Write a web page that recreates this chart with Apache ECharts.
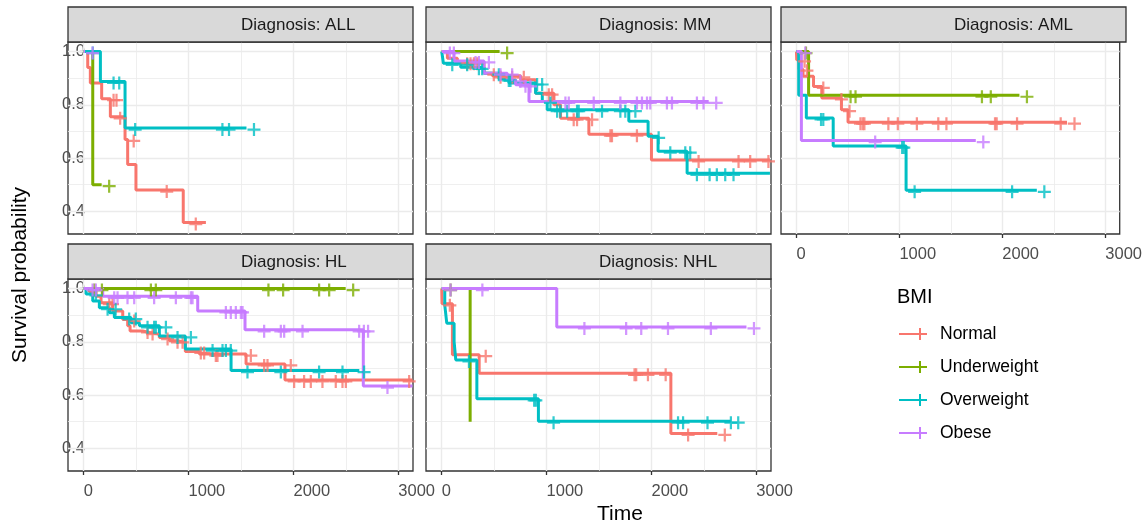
<!DOCTYPE html>
<html><head><meta charset="utf-8">
<script src="https://cdn.jsdelivr.net/npm/echarts@6/dist/echarts.min.js"></script>
<style>html,body{margin:0;padding:0;background:#fff}#c{width:1145px;height:527px}</style>
</head><body><div id="c"></div><script>
// ---------- data ----------
const groups = ['Normal', 'Underweight', 'Overweight', 'Obese'];
const panelNames = ['ALL', 'MM', 'AML', 'HL', 'NHL'];
const xTicks = [0, 1000, 2000, 3000];
const xMinor = [500, 1500, 2500];
const yTicks = [0.4, 0.6, 0.8, 1.0];
const yMinor = [0.5, 0.7, 0.9];

// ALL
const allNormalT = [0,38,63,171,254,394,419,498,949,1165];
const allNormalS = [1,0.94,0.882,0.823,0.755,0.67,0.576,0.48,0.358,0.358];
const allNormalC = [213,241,276,405,720,997];
const allUnderT = [0,86,171];
const allUnderS = [1,0.5,0.5];
const allUnderC = [171];
const allOverT = [0,159,394,1552];
const allOverS = [1,0.888,0.713,0.713];
const allOverC = [15,213,267,419,1251,1314,1552];
const allObeseT = [0,13];
const allObeseS = [1,1];
const allObeseC = [13];
// MM
const mmNormalT = [0,54,149,403,483,752,895,1070,1133,1403,2000,3130];
const mmNormalS = [1,0.975,0.96,0.919,0.909,0.894,0.844,0.80,0.75,0.69,0.593,0.593];
const mmNormalC = [171,203,235,267,425,489,600,711,949,981,1187,1219,1362,1537,1552,1790,2378,2759,2870,3044];
const mmUnderT = [0,552];
const mmUnderS = [1,1];
const mmUnderC = [552];
const mmOverT = [0,16,181,403,546,641,895,959,1006,1784,1968,2063,2340,3130];
const mmOverS = [1,0.956,0.941,0.919,0.897,0.882,0.844,0.813,0.782,0.738,0.682,0.626,0.543,0.543];
const mmOverC = [29,171,283,314,473,568,584,838,886,965,1029,1060,1124,1219,1235,1457,1632,1679,1775,1997,2108,2251,2298,2362,2483,2552,2632,2711];
const mmObeseT = [0,117,403,625,705,832,2546];
const mmObeseS = [1,0.965,0.919,0.894,0.875,0.813,0.813];
const mmObeseC = [6,44,251,283,378,489,600,679,727,775,1108,1140,1378,1632,1790,1838,1886,1917,2076,2124,2362,2425,2546];
// AML
const amlNormalT = [0,3,25,64,166,246,437,501,2628];
const amlNormalS = [1,0.969,0.934,0.907,0.869,0.826,0.782,0.735,0.735];
const amlNormalC = [6,29,188,364,443,549,571,587,820,912,1097,1305,1384,1856,1872,2070,2494,2628];
const amlUnderT = [0,118,2166];
const amlUnderS = [1,0.836,0.836];
const amlUnderC = [20,453,501,1729,1815,2166];
const amlOverT = [0,22,96,357,1065,2335];
const amlOverS = [1,0.836,0.751,0.645,0.479,0.479];
const amlOverC = [166,188,954,970,1075,2022,2335];
const amlObeseT = [0,48,1742];
const amlObeseS = [1,0.666,0.666];
const amlObeseC = [13,692,1742];
// HL
const hlNormalT = [0,54,118,165,276,372,419,442,562,626,721,817,896,969,1103,1548,1919,3135];
const hlNormalS = [1,0.988,0.971,0.947,0.916,0.884,0.86,0.841,0.835,0.829,0.816,0.804,0.798,0.764,0.754,0.717,0.657,0.657];
const hlNormalC = [172,203,410,537,585,728,823,871,1045,1077,1188,1204,1522,1649,1681,1903,1935,2030,2094,2205,2332,2396,2428,3032];
const hlUnderT = [0,2498];
const hlUnderS = [1,1];
const hlUnderC = [30,102,569,616,1690,1830,2173,2269,2498];
const hlOverT = [0,22,86,149,245,292,451,531,721,969,1405,2628];
const hlOverS = [1,0.98,0.953,0.928,0.909,0.891,0.872,0.86,0.822,0.773,0.692,0.692];
const hlOverC = [45,156,233,362,425,537,600,616,712,823,950,1157,1252,1284,1331,1490,1808,2173,2396,2602];
const hlObeseT = [0,181,1087,1538,2666,3135];
const hlObeseS = [1,0.971,0.916,0.845,0.634,0.634];
const hlObeseC = [13,44,219,251,346,410,600,807,950,966,1284,1331,1379,1427,1443,1649,1808,1840,2015,2555,2600,2640,2825];
// NHL
const nhlNormalT = [0,3,102,357,2185,2628];
const nhlNormalS = [1,0.943,0.752,0.682,0.456,0.456];
const nhlNormalC = [6,348,1767,1783,1895,2064,2278,2628];
const nhlUnderT = [0,271];
const nhlUnderS = [1,0.5];
const nhlUnderC = [13];
const nhlOverT = [0,29,48,118,134,335,922,2756];
const nhlOverS = [1,0.938,0.87,0.801,0.732,0.586,0.502,0.502];
const nhlOverC = [188,810,826,995,2182,2230,2463,2686,2756];
const nhlObeseT = [0,1097,2906];
const nhlObeseS = [1,0.856,0.856];
const nhlObeseC = [13,316,1289,1687,1831,2086,2495,2906];

// ---------- build ----------
const curves = [
  [[allNormalT,allNormalS,allNormalC],[allUnderT,allUnderS,allUnderC],[allOverT,allOverS,allOverC],[allObeseT,allObeseS,allObeseC]],
  [[mmNormalT,mmNormalS,mmNormalC],[mmUnderT,mmUnderS,mmUnderC],[mmOverT,mmOverS,mmOverC],[mmObeseT,mmObeseS,mmObeseC]],
  [[amlNormalT,amlNormalS,amlNormalC],[amlUnderT,amlUnderS,amlUnderC],[amlOverT,amlOverS,amlOverC],[amlObeseT,amlObeseS,amlObeseC]],
  [[hlNormalT,hlNormalS,hlNormalC],[hlUnderT,hlUnderS,hlUnderC],[hlOverT,hlOverS,hlOverC],[hlObeseT,hlObeseS,hlObeseC]],
  [[nhlNormalT,nhlNormalS,nhlNormalC],[nhlUnderT,nhlUnderS,nhlUnderC],[nhlOverT,nhlOverS,nhlOverC],[nhlObeseT,nhlObeseS,nhlObeseC]]
];
const colors = ['#F8766D', '#7CAE00', '#00BFC4', '#C77CFF'];
const FONT = 'Liberation Sans, Arial, Helvetica, sans-serif';
const PW = 345, PH = 192, STRIP = 35;
const layout = [
  {left: 68, top: 42, xLab: false, yLab: true},
  {left: 426, top: 42, xLab: false, yLab: false},
  {left: 781, top: 42, xLab: true, yLab: false},
  {left: 68, top: 279, xLab: true, yLab: true},
  {left: 426, top: 279, xLab: true, yLab: false}
];
const PLUS = 'path://M-1.2,-7H1.2V-1.2H7V1.2H1.2V7H-1.2V1.2H-7V-1.2H-1.2Z';

function survAt(t, T, S) {
  let v = S[0];
  for (let i = 0; i < T.length; i++) { if (T[i] <= t) v = S[i]; }
  return v;
}

const grids = [], xAxes = [], yAxes = [], series = [], graphics = [];
layout.forEach((L, gi) => {
  grids.push({left: L.left, top: L.top, width: PW, height: PH, show: true,
    borderColor: '#333333', borderWidth: 1.3, backgroundColor: '#ffffff'});
  xAxes.push({type: 'value', gridIndex: gi, min: -150, max: 3140,
    splitLine: {show: false}, axisLine: {show: false},
    axisTick: {show: L.xLab, customValues: xTicks, length: 4, lineStyle: {color: '#333333', width: 1.3}},
    axisLabel: {show: L.xLab, customValues: xTicks, align: 'left', margin: 12,
      color: '#4D4D4D', fontSize: 16.5, fontFamily: FONT, formatter: v => String(v)}});
  yAxes.push({type: 'value', gridIndex: gi, min: 0.315, max: 1.036,
    splitLine: {show: false}, axisLine: {show: false},
    axisTick: {show: L.yLab, customValues: yTicks, length: 4, lineStyle: {color: '#333333', width: 1.3}},
    axisLabel: {show: L.yLab, customValues: yTicks, align: 'left', margin: 6, padding: [4, 0, 0, 0],
      color: '#4D4D4D', fontSize: 16.5, fontFamily: FONT, formatter: v => v.toFixed(1)}});
  const ml = [];
  xTicks.forEach(v => ml.push({xAxis: v, lineStyle: {color: '#EBEBEB', width: 1.4, type: 'solid'}}));
  xMinor.forEach(v => ml.push({xAxis: v, lineStyle: {color: '#EBEBEB', width: 0.8, type: 'solid'}}));
  yTicks.forEach(v => ml.push({yAxis: v, lineStyle: {color: '#EBEBEB', width: 1.4, type: 'solid'}}));
  yMinor.forEach(v => ml.push({yAxis: v, lineStyle: {color: '#EBEBEB', width: 0.8, type: 'solid'}}));
  series.push({type: 'line', xAxisIndex: gi, yAxisIndex: gi, data: [[0, 1]], symbol: 'none',
    lineStyle: {opacity: 0}, z: 1, silent: true,
    markLine: {z: 1, silent: true, symbol: ['none', 'none'], label: {show: false}, animation: false, data: ml}});
  curves[gi].forEach((c, k) => {
    const [T, S] = c;
    series.push({type: 'line', name: groups[k], xAxisIndex: gi, yAxisIndex: gi, step: 'end',
      symbol: 'none', showSymbol: false, data: T.map((t, i) => [t, S[i]]),
      lineStyle: {color: colors[k], width: 3, opacity: 1}, itemStyle: {color: colors[k]}, z: 2});
  });
  curves[gi].forEach((c, k) => {
    const [T, S, C] = c;
    series.push({type: 'scatter', name: groups[k], xAxisIndex: gi, yAxisIndex: gi,
      data: C.map(t => [t, survAt(t, T, S)]), symbol: PLUS, symbolSize: 13, symbolOffset: [7.5, 1.5],
      itemStyle: {color: colors[k]}, z: 3, clip: false});
  });
  graphics.push({type: 'rect', shape: {x: L.left, y: L.top - STRIP, width: PW, height: STRIP},
    style: {fill: '#D9D9D9', stroke: '#333333', lineWidth: 1.3}, z: 10});
  graphics.push({type: 'text', x: L.left + 173, y: L.top - STRIP / 2 + 1,
    style: {text: 'Diagnosis: ' + panelNames[gi], fill: '#1A1A1A', font: '17px ' + FONT,
      textAlign: 'left', textVerticalAlign: 'middle'}, z: 11});
});

graphics.push({type: 'text', x: 597, y: 514, style: {text: 'Time', fill: '#000', font: '21px ' + FONT,
  textAlign: 'left', textVerticalAlign: 'middle'}});
graphics.push({type: 'text', x: 20, y: 275, rotation: Math.PI / 2, style: {text: 'Survival probability',
  fill: '#000', font: '21px ' + FONT, textAlign: 'center', textVerticalAlign: 'middle'}});
graphics.push({type: 'text', x: 897, y: 297, style: {text: 'BMI', fill: '#000', font: '20px ' + FONT,
  textAlign: 'left', textVerticalAlign: 'middle'}});

const chart = echarts.init(document.getElementById('c'), null, {renderer: 'canvas'});
chart.setOption({
  animation: false,
  backgroundColor: '#ffffff',
  grid: grids, xAxis: xAxes, yAxis: yAxes, series: series,
  legend: {data: groups, orient: 'vertical', left: 899, top: 325, padding: 0,
    itemWidth: 28, itemHeight: 12, itemGap: 15, selectedMode: false,
    icon: 'path://M0,5H28V7H0Z M20,0H22V12H20Z',
    textStyle: {fontSize: 17.5, color: '#000', fontFamily: FONT, padding: [0, 0, 0, 8]}},
  graphic: graphics
});
</script></body></html>
